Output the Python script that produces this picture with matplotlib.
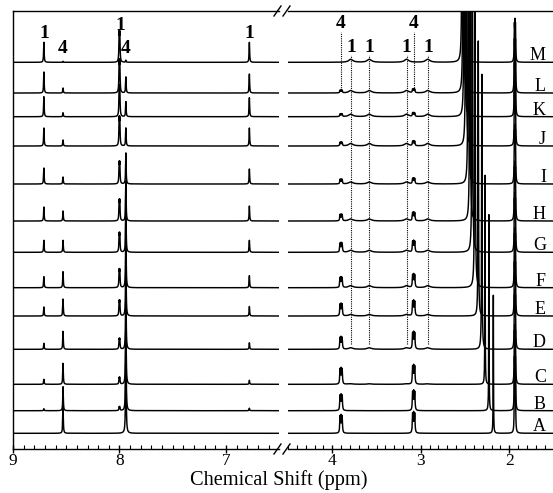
import numpy as np
import matplotlib
matplotlib.use("Agg")
import matplotlib.pyplot as plt
from matplotlib.ticker import MultipleLocator
from matplotlib.lines import Line2D

plt.rcParams['font.family'] = ['Liberation Serif', 'DejaVu Serif']

# ---------------- data (A .. M, bottom to top) ----------------
spectra = list("ABCDEFGHIJKLM")
offsets = [15.7, 38.3, 64.7, 99.7, 133, 161.3, 196.7, 228, 265, 303, 332.3, 356, 386.7]

# left region peaks (ppm) and heights per spectrum
p1a, h1a = 8.71, [0, 2, 5, 6, 9, 11, 12, 14, 16, 18, 20, 21, 20]
p4a, h4a = 8.53, [28, 24, 21, 18, 17, 16, 12, 10, 7, 6, 4, 5, 1]
p1b, h1b = 8.00, [0, 4, 7, 11, 16, 19, 20, 22, 23, 30, 32, 34, 32]
p4b, h4b = 7.94, [110, 95, 85, 72, 68, 64, 50, 40, 31, 18, 15, 16, 2]
p1c, h1c = 6.78, [0, 2.5, 4, 6.5, 9.5, 12, 12, 15, 15, 18, 19, 19, 20]

# right region peaks
p4c, h4c = 3.90, [19, 17, 17, 13, 13, 11, 10, 7, 5, 4, 3, 3, 0]
p4d, h4d = 3.08, [22, 21, 20, 18, 16, 14, 12, 9, 6, 5, 4, 4, 0]
broad1_pos = [3.79, 3.58, 3.16, 2.92]
broad1_h = [0, 0, 0.5, 1.5, 1.5, 2, 2, 2, 2, 2.5, 2.5, 2.5, 3]
water_pos = [2.18, 2.23, 2.274, 2.31, 2.35, 2.388, 2.418, 2.444, 2.463, 2.49, 2.508, 2.52, 2.531]
water_h = [138, 196, 209, 275, 275, 450, 450, 450, 450, 450, 450, 450, 450]
water_w = [0.002, 0.002, 0.002, 0.003, 0.003, 0.0035, 0.0035, 0.0035, 0.0035, 0.0035, 0.0035, 0.0035, 0.0035]
solv_pos = 1.936
solv_h = [60, 60, 60, 60, 60, 60, 60, 60, 60, 60, 60, 60, 44]

peak_labels_left = [(8.71, "1", 410.7), (8.53, "4", 395.7), (7.995, "1", 419.5),
                    (7.94, "4", 395.7), (6.78, "1", 410.7)]
peak_labels_right = [(3.90, "4", 420.7), (3.08, "4", 420.7), (3.79, "1", 396.7),
                     (3.58, "1", 396.7), (3.16, "1", 396.7), (2.92, "1", 396.7)]
dot4 = [3.90, 3.08]
dot1 = [3.79, 3.58, 3.16, 2.92]

# ---------------- helpers ----------------
def lor(x, x0, w):
    return w ** 2 / (w ** 2 + (x - x0) ** 2)

def multiplet(x, x0, h, w, spacing, n):
    if h == 0:
        return np.zeros_like(x)
    offs = (np.arange(n) - (n - 1) / 2) * spacing
    y = sum(lor(x, x0 + o, w) for o in offs)
    xx = np.linspace(x0 - 0.05, x0 + 0.05, 4001)
    m = sum(lor(xx, x0 + o, w) for o in offs).max()
    return h * y / m

W, H = 553, 493
fig = plt.figure(figsize=(W / 100, H / 100), dpi=100)
axL = fig.add_axes([13 / W, 44 / H, 266 / W, 438 / H])
axR = fig.add_axes([288 / W, 44 / H, 265 / W, 438 / H])

xl = np.arange(6.45, 9.05, 0.0002)
xr = np.arange(1.45, 4.55, 0.0002)

lw = 1.05
for i, s in enumerate(spectra):
    off = offsets[i]
    yl = (multiplet(xl, p1a, h1a[i], 0.003, 0.0, 1)
          + multiplet(xl, p4a, h4a[i], 0.003, 0.0, 1)
          + multiplet(xl, p1b, h1b[i], 0.003, 0.006, 2)
          + multiplet(xl, p4b, h4b[i], 0.003, 0.0, 1)
          + multiplet(xl, p1c, h1c[i], 0.003, 0.0, 1))
    axL.plot(xl, off + yl, color='k', lw=lw)

    yr = (multiplet(xr, p4c, h4c[i], 0.004, 0.012, 3)
          + multiplet(xr, p4d, h4d[i], 0.004, 0.012, 3)
          + sum(multiplet(xr, bp, broad1_h[i], 0.028, 0.0, 1) for bp in broad1_pos)
          + multiplet(xr, water_pos[i], water_h[i], water_w[i], 0.0, 1)
          + multiplet(xr, solv_pos, solv_h[i], 0.003, 0.006, 3))
    axR.plot(xr, off + yr, color='k', lw=lw)
    axR.text(0.9736, off + 2, s, transform=axR.get_yaxis_transform(),
             ha='right', va='baseline', fontsize=13)

for ax in (axL, axR):
    ax.set_ylim(0, 438)
    ax.set_yticks([])
    ax.spines['right'].set_visible(False)
    for sp in ax.spines.values():
        sp.set_linewidth(1.0)
    ax.xaxis.set_minor_locator(MultipleLocator(0.1))
    ax.tick_params(axis='x', which='major', direction='inout', length=6, width=1.0,
                   labelsize=12.5, pad=0)
    ax.tick_params(axis='x', which='minor', direction='in', length=3, width=0.8)

axL.set_xlim(9, 6.502)
axL.set_xticks([9, 8, 7])
axL.set_xticklabels(["9", "8", "7"])
axR.set_xlim(4.50, 1.506)
axR.spines['left'].set_visible(False)
axR.set_xticks([4, 3, 2])
axR.set_xticklabels(["4", "3", "2"])

for x, t, y in peak_labels_left:
    axL.text(x, y, t, ha='center', va='baseline', fontsize=14, fontweight='bold')
for x, t, y in peak_labels_right:
    axR.text(x, y, t, ha='center', va='baseline', fontsize=14, fontweight='bold')
for x in dot4:
    axR.plot([x, x], [359, 417], color='k', lw=0.8, ls=(0, (1, 1)))
for x in dot1:
    axR.plot([x, x], [105, 394], color='k', lw=0.8, ls=(0, (1, 1)))

# break marks
def fl(x0, y0, x1, y1):
    fig.add_artist(Line2D([x0 / W, x1 / W], [1 - y0 / H, 1 - y1 / H], color='k', lw=1.0))
for yc in (11, 449):
    fl(274, yc + 5, 281, yc - 5)
    fl(283, yc + 5, 290, yc - 5)

fig.text(279 / W, 1 - 484.5 / H, "Chemical Shift (ppm)", ha='center', va='baseline', fontsize=14.7)

fig.savefig("out.png", dpi=100)
